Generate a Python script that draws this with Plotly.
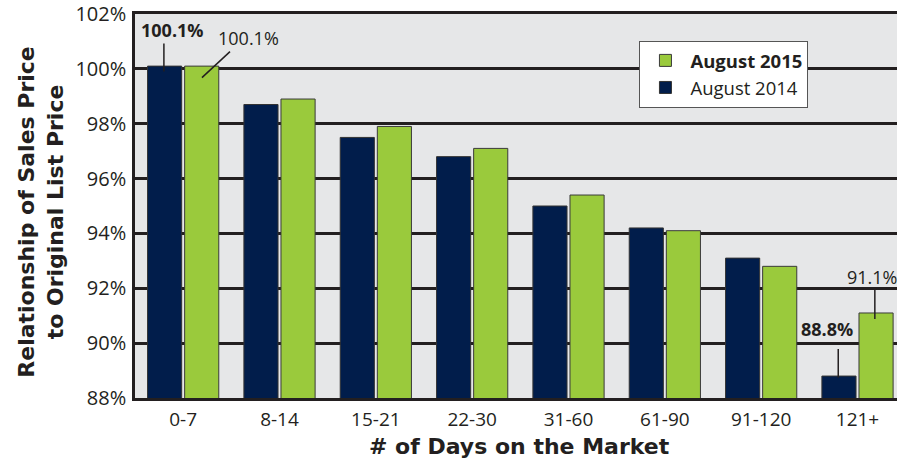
import plotly.graph_objects as go

categories = ["0-7", "8-14", "15-21", "22-30", "31-60", "61-90", "91-120", "121+"]
aug_2014 = [100.1, 98.7, 97.5, 96.8, 95.0, 94.2, 93.1, 88.8]
aug_2015 = [100.1, 98.9, 97.9, 97.1, 95.4, 94.1, 92.8, 91.1]
y_ticks = [88, 90, 92, 94, 96, 98, 100, 102]
y_tick_labels = [f"{v}%" for v in y_ticks]

NAVY = "#011d4b"
GREEN = "#9aca3c"
INK = "#231f20"
FONT = "Open Sans"
TITLE_FONT = "DejaVu Sans"

fig = go.Figure()
fig.add_trace(go.Bar(x=categories, y=aug_2014, name="August 2014",
                     marker=dict(color=NAVY, line=dict(color="#333333", width=1))))
fig.add_trace(go.Bar(x=categories, y=aug_2015, name="<b>August 2015</b>",
                     marker=dict(color=GREEN, line=dict(color="#3a3a3a", width=1))))

# leader lines + labels (positions derived from data)
def leader(idx, val, dx0, dy0, dx1, dy1):
    fig.add_shape(type="line", xref="x", yref="y",
                  x0=idx + dx0, y0=val + dy0, x1=idx + dx1, y1=val + dy1,
                  line=dict(color=INK, width=1.5), layer="above")

def label(idx, val, dx, dy, text):
    fig.add_annotation(x=idx + dx, y=val + dy, xref="x", yref="y", text=text,
                       showarrow=False, font=dict(family=FONT, size=18, color=INK),
                       xanchor="center", yanchor="middle")

last = len(categories) - 1
leader(0, aug_2014[0], -0.2, -0.2, -0.2, 0.82)
label(0, aug_2014[0], -0.11, 1.33, "<b>100.1%</b>")
leader(0, aug_2015[0], 0.195, -0.42, 0.486, 0.53)
label(0, aug_2015[0], 0.68, 1.04, "100.1%")
leader(last, aug_2014[last], -0.2, -0.06, -0.2, 0.99)
label(last, aug_2014[last], -0.32, 1.72, "<b>88.8%</b>")
leader(last, aug_2015[last], 0.18, -0.22, 0.18, 0.84)
label(last, aug_2015[last], 0.15, 1.31, "91.1%")

# axis titles
fig.add_annotation(xref="paper", yref="paper", x=-0.1234, y=0.485,
                   text="<b>Relationship of Sales Price<br>to Original List Price</b>",
                   textangle=-90, showarrow=False,
                   font=dict(family=TITLE_FONT, size=22, color=INK),
                   xanchor="center", yanchor="middle")
fig.add_annotation(xref="paper", yref="paper", x=0.505, y=-0.127,
                   text="<b># of Days on the Market</b>", showarrow=False,
                   font=dict(family=TITLE_FONT, size=22, color=INK),
                   xanchor="center", yanchor="middle")

fig.update_layout(
    width=897, height=460,
    margin=dict(l=135, r=0, t=14, b=62),
    paper_bgcolor="white",
    plot_bgcolor="#e6e7e8",
    barmode="group", bargap=0.23, bargroupgap=0.08,
    font=dict(family=FONT, color=INK),
    showlegend=True,
    legend=dict(x=0.662, y=0.93, xanchor="left", yanchor="top",
                traceorder="reversed", bgcolor="white",
                bordercolor="#555555", borderwidth=1,
                font=dict(family=FONT, size=18.5, color=INK),
                itemwidth=40, tracegroupgap=2),
    xaxis=dict(
        range=[-0.5, 7.41], automargin=False,
        showline=True, linecolor=INK, linewidth=2.5, mirror=True,
        showgrid=False, ticks="",
        tickfont=dict(family=FONT, size=19, color=INK),
        ticklabelstandoff=2,
    ),
    yaxis=dict(
        range=[88, 102], automargin=False,
        tickvals=y_ticks, ticktext=y_tick_labels,
        ticklabeloverflow="allow",
        showline=True, linecolor=INK, linewidth=2.5,
        showgrid=True, gridcolor=INK, gridwidth=2.5,
        zeroline=False, ticks="",
        tickfont=dict(family=FONT, size=20, color=INK),
        ticklabelstandoff=2,
    ),
)

# remove the default body margin so the figure fills the 897x460 window exactly
fig.write_html("out.html", config={"displayModeBar": False},
               post_script="document.body.style.margin='0px';")
